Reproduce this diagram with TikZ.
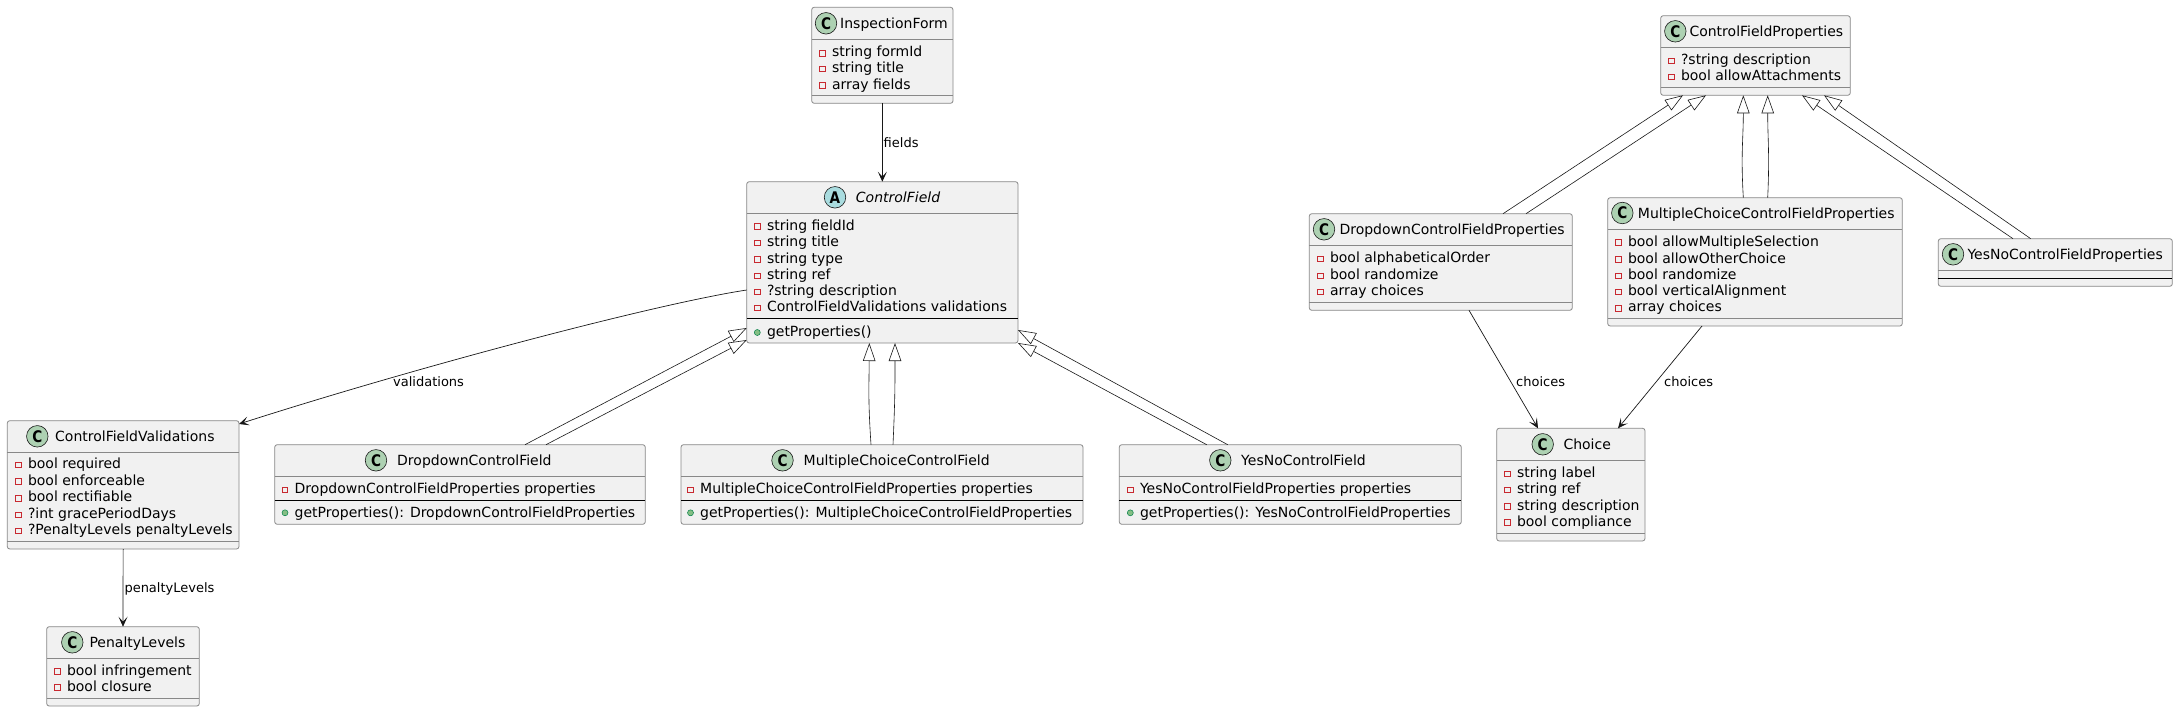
\documentclass[tikz,border=0pt]{standalone}
\usepackage{fontspec}
\setmainfont{DejaVu Sans}
\usetikzlibrary{arrows.meta,calc}
\definecolor{boxfill}{HTML}{F1F1F1}
\definecolor{edge}{HTML}{181818}
\definecolor{boxedge}{HTML}{888888}
\definecolor{privred}{HTML}{C82930}
\definecolor{pubfill}{HTML}{84BE84}
\definecolor{pubdraw}{HTML}{038048}
\definecolor{cfill}{HTML}{ADD1B2}
\definecolor{afill}{HTML}{A9DCDF}
\tikzset{
 box/.style={draw=boxedge, line width=0.8pt, fill=boxfill, rounded corners=2.5pt, inner sep=0pt, outer sep=0pt, anchor=north west},
 sepline/.style={draw=boxedge, line width=0.8pt},
 msepline/.style={draw=black, line width=0.9pt},
 txt/.style={inner sep=0pt, anchor=west, text height=10pt, text depth=0pt, font=\fontsize{14pt}{16pt}\selectfont, text=black},
 lbl/.style={inner sep=0pt, anchor=west, text height=9pt, text depth=0pt, font=\fontsize{13pt}{15pt}\selectfont, text=black},
 badge/.style={circle, draw=edge, line width=0.6pt, minimum size=21.5pt, inner sep=0pt, font=\fontsize{16pt}{16pt}\selectfont\bfseries},
 privicon/.style={draw=privred, line width=0.8pt},
 pubicon/.style={draw=pubdraw, fill=pubfill, line width=0.5pt},
 assoc/.style={draw=edge, line width=0.7pt, -{Stealth[length=10pt,width=9pt,inset=5pt]}},
 inherit/.style={draw=edge, line width=0.6pt, -{Triangle[length=18pt,width=12.5pt,fill=white]}},
}
\newcounter{tn}
\newcommand\fldP[3]{\stepcounter{tn}\draw[privicon] (#1-2.8,#2-1.3) rectangle (#1+2.8,#2+4.3);\node[txt] (t\arabic{tn}) at (#1+9.5,#2) {#3};}
\newcommand\fldM[3]{\stepcounter{tn}\path[pubicon] (#1,#2+0.8) circle[radius=3pt];\node[txt] (t\arabic{tn}) at (#1+9.5,#2) {#3};}
\newcommand\clshead[6]{\stepcounter{tn}\node[badge, fill=#4] (b\arabic{tn}) at (#1,#2) {\scalebox{0.85}[1]{#3}};\node[txt] (h\arabic{tn}) at (#5,#2) {#6};}
\begin{document}
\begin{tikzpicture}[x=1pt,y=-1pt]
\fill[white] (0,0) rectangle (2178,712);
\useasboundingbox (0,0) rectangle (2178,712);

% InspectionForm
\node[box, minimum width=141.3pt, minimum height=96pt] (if) at (811.7,7.3) {};
\draw[sepline] (811.7,39.3) -- (953,39.3);
\draw[sepline] (811.7,95.7) -- (953,95.7);
\clshead{826}{23.3}{C}{cfill}{840}{InspectionForm}
\fldP{822.3}{51.7}{string formId}
\fldP{822.3}{67.3}{string title}
\fldP{822.3}{84}{array fields}

% ControlField
\node[box, minimum width=271.3pt, minimum height=161.3pt] (cf) at (746.7,181.7) {};
\draw[sepline] (746.7,213.3) -- (1018,213.3);
\draw[msepline] (746.7,318.3) -- (1018,318.3);
\clshead{835}{197.3}{A}{afill}{855.7}{\itshape ControlField}
\fldP{757.3}{225}{string fieldId}
\fldP{757.3}{241.3}{string title}
\fldP{757.3}{258}{string type}
\fldP{757.3}{274.3}{string ref}
\fldP{757.3}{290.3}{?string description}
\fldP{757.3}{306.3}{ControlFieldValidations validations}
\fldM{757.3}{331.7}{getProperties()}

% ControlFieldValidations
\node[box, minimum width=231.7pt, minimum height=128.3pt] (cfv) at (7.3,420.7) {};
\draw[sepline] (7.3,452.3) -- (239,452.3);
\draw[sepline] (7.3,541.7) -- (239,541.7);
\clshead{37.3}{436.3}{C}{cfill}{55}{ControlFieldValidations}
\fldP{18.3}{463.3}{bool required}
\fldP{18.3}{480}{bool enforceable}
\fldP{18.3}{496.7}{bool rectifiable}
\fldP{18.3}{513.3}{?int gracePeriodDays}
\fldP{18.3}{529.3}{?PenaltyLevels penaltyLevels}

% PenaltyLevels
\node[box, minimum width=152.6pt, minimum height=79.3pt] (pl) at (46.7,626.7) {};
\draw[sepline] (46.7,658.3) -- (199.3,658.3);
\draw[sepline] (46.7,698.3) -- (199.3,698.3);
\clshead{72.3}{642.3}{C}{cfill}{89.3}{PenaltyLevels}
\fldP{57.3}{670}{bool infringement}
\fldP{57.3}{686}{bool closure}

% DropdownControlField
\node[box, minimum width=370.6pt, minimum height=79.6pt] (dcf) at (274.7,444.7) {};
\draw[sepline] (274.7,476.7) -- (645.3,476.7);
\draw[msepline] (274.7,500.3) -- (645.3,500.3);
\clshead{376}{460.3}{C}{cfill}{397}{DropdownControlField}
\fldP{285}{488.3}{DropdownControlFieldProperties properties}
\fldM{285}{512}{getProperties(): DropdownControlFieldProperties}

% MultipleChoiceControlField
\node[box, minimum width=402pt, minimum height=79.6pt] (mcf) at (681,444.7) {};
\draw[sepline] (681,476.7) -- (1083,476.7);
\draw[msepline] (681,500.3) -- (1083,500.3);
\clshead{782.5}{460.3}{C}{cfill}{803.5}{MultipleChoiceControlField}
\fldP{690.5}{488.3}{MultipleChoiceControlFieldProperties properties}
\fldM{690.5}{512}{getProperties(): MultipleChoiceControlFieldProperties}

% YesNoControlField
\node[box, minimum width=342pt, minimum height=79.6pt] (ycf) at (1119.3,444.7) {};
\draw[sepline] (1119.3,476.7) -- (1461.3,476.7);
\draw[msepline] (1119.3,500.3) -- (1461.3,500.3);
\clshead{1220.3}{460.3}{C}{cfill}{1241}{YesNoControlField}
\fldP{1130.3}{488.3}{YesNoControlFieldProperties properties}
\fldM{1130.3}{512}{getProperties(): YesNoControlFieldProperties}

% Choice
\node[box, minimum width=148.3pt, minimum height=112.7pt] (ch) at (1496.7,428.3) {};
\draw[sepline] (1496.7,460.7) -- (1645,460.7);
\draw[sepline] (1496.7,533.3) -- (1645,533.3);
\clshead{1542.7}{444.3}{C}{cfill}{1563.3}{Choice}
\fldP{1507.3}{472.3}{string label}
\fldP{1507.3}{488.3}{string ref}
\fldP{1507.3}{505}{string description}
\fldP{1507.3}{521}{bool compliance}

% ControlFieldProperties
\node[box, minimum width=189.6pt, minimum height=79.6pt] (cfp) at (1660.7,15.7) {};
\draw[sepline] (1660.7,47.7) -- (1850.3,47.7);
\draw[sepline] (1660.7,87.7) -- (1850.3,87.7);
\clshead{1675.3}{31.3}{C}{cfill}{1689.3}{ControlFieldProperties}
\fldP{1671.3}{59.3}{?string description}
\fldP{1671.3}{75.3}{bool allowAttachments}

% DropdownControlFieldProperties
\node[box, minimum width=263pt, minimum height=96.6pt] (dcfp) at (1309.3,213.7) {};
\draw[sepline] (1309.3,245.7) -- (1572.3,245.7);
\draw[sepline] (1309.3,302.7) -- (1572.3,302.7);
\clshead{1324}{229.3}{C}{cfill}{1339.3}{DropdownControlFieldProperties}
\fldP{1320.3}{257.3}{bool alphabeticalOrder}
\fldP{1320.3}{274.3}{bool randomize}
\fldP{1320.3}{290.3}{array choices}

% MultipleChoiceControlFieldProperties
\node[box, minimum width=294.6pt, minimum height=128.3pt] (mcfp) at (1607.7,197.7) {};
\draw[sepline] (1607.7,229.7) -- (1902.3,229.7);
\draw[sepline] (1607.7,318.3) -- (1902.3,318.3);
\clshead{1622.3}{213}{C}{cfill}{1637.7}{MultipleChoiceControlFieldProperties}
\fldP{1618.3}{241}{bool allowMultipleSelection}
\fldP{1618.3}{258}{bool allowOtherChoice}
\fldP{1618.3}{274.3}{bool randomize}
\fldP{1618.3}{290.3}{bool verticalAlignment}
\fldP{1618.3}{306.7}{array choices}

% YesNoControlFieldProperties
\node[box, minimum width=234pt, minimum height=47.6pt] (ycfp) at (1938.3,238.7) {};
\draw[sepline] (1938.3,270.3) -- (2172.3,270.3);
\draw[msepline] (1938.3,278.3) -- (2172.3,278.3);
\clshead{1953}{254.3}{C}{cfill}{1967.3}{YesNoControlFieldProperties}

% associations
\draw[assoc] (if.south) -- (cf.north);
\node[lbl] (lf) at (883.5,142.7) {fields};
\draw[assoc] ($(cf.north west)+(0,108.3)$) .. controls ($(cf.north west)+(-90,122)$) and (420,366) .. ($(cfv.north east)+(0,3.3)$);
\node[lbl] (lv) at (393,382) {validations};
\draw[assoc] (cfv.south) -- (pl.north);
\node[lbl] (lp) at (124.3,588) {penaltyLevels};
\draw[assoc] ($(dcfp.south west)+(159.7,0)$) -- ($(ch.north west)+(41.3,0)$);
\node[lbl] (lc1) at (1516,382) {choices};
\draw[assoc] ($(mcfp.south west)+(94.3,0)$) -- ($(ch.north west)+(121.3,0)$);
\node[lbl] (lc2) at (1664,382) {choices};

% inheritance to ControlField
\draw[inherit] ($(dcf.north west)+(250.3,0)$) -- ($(cf.north west)+(0,146.3)$);
\draw[inherit] ($(dcf.north west)+(271.3,0)$) -- ($(cf.north west)+(0,158.3)$);
\draw[inherit] ($(mcf.north west)+(190,0)$) .. controls ($(mcf.north west)+(187,-45)$) and ($(cf.south west)+(122.3,45)$) .. ($(cf.south west)+(122.6,0)$);
\draw[inherit] ($(mcf.north west)+(212,0)$) .. controls ($(mcf.north west)+(214,-45)$) and ($(cf.south west)+(148.3,45)$) .. ($(cf.south west)+(148.3,0)$);
\draw[inherit] ($(ycf.north west)+(108.4,0)$) -- ($(cf.north east)+(0,148.3)$);
\draw[inherit] ($(ycf.north west)+(87.4,0)$) -- (cf.south east);

% inheritance to ControlFieldProperties
\draw[inherit] ($(dcfp.north west)+(193.7,0)$) -- ($(cfp.south west)+(22.3,0)$);
\draw[inherit] ($(dcfp.north west)+(216.7,0)$) -- ($(cfp.south west)+(45.3,0)$);
\draw[inherit] ($(mcfp.north west)+(135.6,0)$) .. controls ($(mcfp.north west)+(133,-45)$) and ($(cfp.south west)+(82.6,45)$) .. ($(cfp.south west)+(82.6,0)$);
\draw[inherit] ($(mcfp.north west)+(160,0)$) .. controls ($(mcfp.north west)+(162,-45)$) and ($(cfp.south west)+(107,45)$) .. ($(cfp.south west)+(107,0)$);
\draw[inherit] ($(ycfp.north west)+(74.7,0)$) -- ($(cfp.south west)+(141.3,0)$);
\draw[inherit] ($(ycfp.north west)+(92.4,0)$) -- ($(cfp.south west)+(163.3,0)$);
\end{tikzpicture}
\end{document}
